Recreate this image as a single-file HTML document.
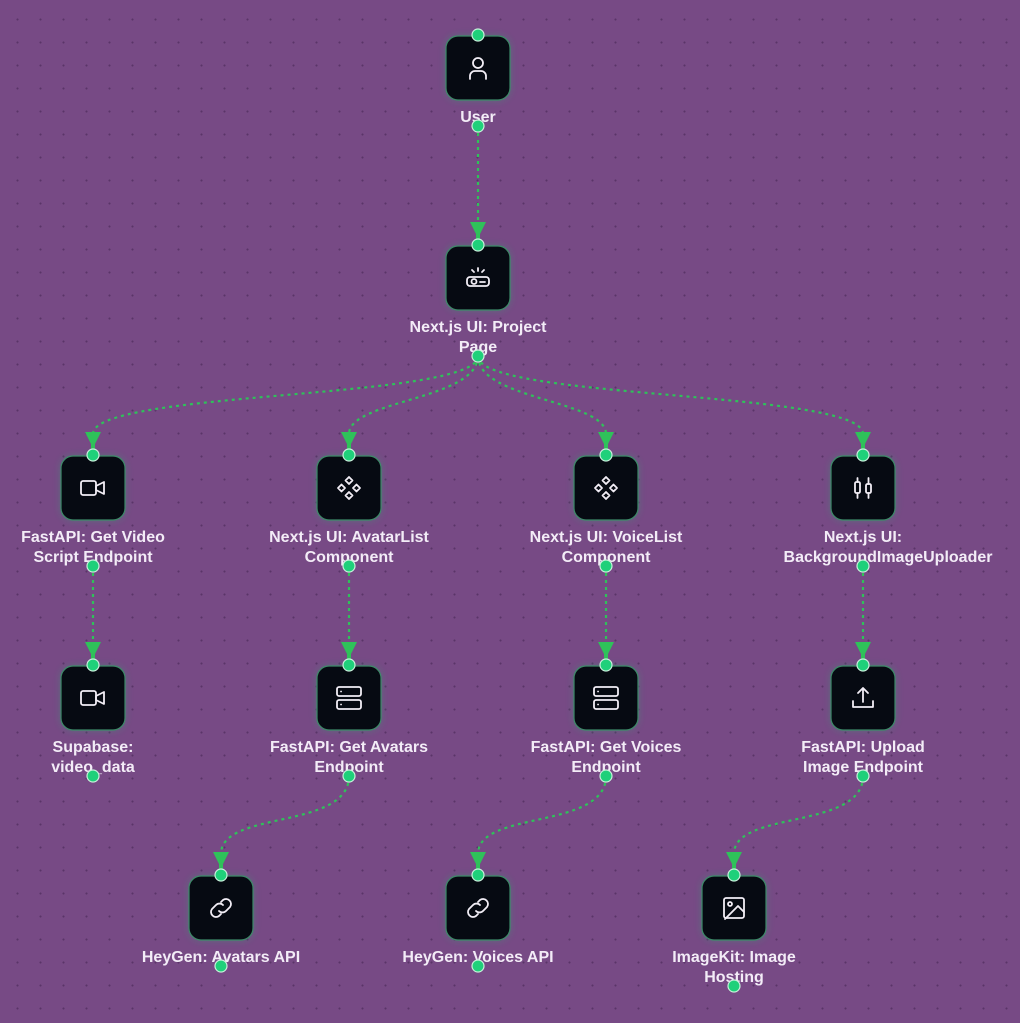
<!DOCTYPE html>
<html><head><meta charset="utf-8"><style>
html,body{margin:0;padding:0;}
body{width:1020px;height:1023px;overflow:hidden;background-color:#774a85;
background-image:radial-gradient(circle,#5a3468 0.9px,transparent 1.2px);background-size:23px 23px;background-position:6px 8px;
font-family:"Liberation Sans",sans-serif;}
svg{position:absolute;left:0;top:0;}
</style></head><body>
<svg width="1020" height="1023" viewBox="0 0 1020 1023" xmlns="http://www.w3.org/2000/svg">
<defs>
<filter id="glow" x="-50%" y="-50%" width="200%" height="200%"><feGaussianBlur stdDeviation="4"/></filter>
</defs>
<g fill="none" stroke="#2fc15a" stroke-width="2.2" stroke-dasharray="3 4">
<path d="M478 126 L478 224"/>
<path d="M478 356 C478 400 93 390 93 434"/>
<path d="M478 356 C478 400 349 400 349 434"/>
<path d="M478 356 C478 400 606 400 606 434"/>
<path d="M478 356 C478 400 863 390 863 434"/>
<path d="M93 566 L93 644"/>
<path d="M349 566 L349 644"/>
<path d="M606 566 L606 644"/>
<path d="M863 566 L863 644"/>
<path d="M349 776 C349 830 221 810 221 854"/>
<path d="M606 776 C606 830 478 810 478 854"/>
<path d="M863 776 C863 830 734 810 734 854"/>
</g>
<g fill="#2fc15a">
<path d="M470 222 L486 222 L480 234 L480 240 L476 240 L476 234 Z"/>
<path d="M85 432 L101 432 L95 444 L95 450 L91 450 L91 444 Z"/>
<path d="M341 432 L357 432 L351 444 L351 450 L347 450 L347 444 Z"/>
<path d="M598 432 L614 432 L608 444 L608 450 L604 450 L604 444 Z"/>
<path d="M855 432 L871 432 L865 444 L865 450 L861 450 L861 444 Z"/>
<path d="M85 642 L101 642 L95 654 L95 660 L91 660 L91 654 Z"/>
<path d="M341 642 L357 642 L351 654 L351 660 L347 660 L347 654 Z"/>
<path d="M598 642 L614 642 L608 654 L608 660 L604 660 L604 654 Z"/>
<path d="M855 642 L871 642 L865 654 L865 660 L861 660 L861 654 Z"/>
<path d="M213 852 L229 852 L223 864 L223 870 L219 870 L219 864 Z"/>
<path d="M470 852 L486 852 L480 864 L480 870 L476 870 L476 864 Z"/>
<path d="M726 852 L742 852 L736 864 L736 870 L732 870 L732 864 Z"/>
</g>
<g id="nodes">
<g fill="#2fa070" opacity="0.45" filter="url(#glow)">
<rect x="446" y="36" width="64" height="64" rx="12"/>
<rect x="446" y="246" width="64" height="64" rx="12"/>
<rect x="61" y="456" width="64" height="64" rx="12"/>
<rect x="317" y="456" width="64" height="64" rx="12"/>
<rect x="574" y="456" width="64" height="64" rx="12"/>
<rect x="831" y="456" width="64" height="64" rx="12"/>
<rect x="61" y="666" width="64" height="64" rx="12"/>
<rect x="317" y="666" width="64" height="64" rx="12"/>
<rect x="574" y="666" width="64" height="64" rx="12"/>
<rect x="831" y="666" width="64" height="64" rx="12"/>
<rect x="189" y="876" width="64" height="64" rx="12"/>
<rect x="446" y="876" width="64" height="64" rx="12"/>
<rect x="702" y="876" width="64" height="64" rx="12"/>
</g>
<g fill="#060a12" stroke="#3d8a68" stroke-width="1.2">
<rect x="446" y="36" width="64" height="64" rx="12"/>
<rect x="446" y="246" width="64" height="64" rx="12"/>
<rect x="61" y="456" width="64" height="64" rx="12"/>
<rect x="317" y="456" width="64" height="64" rx="12"/>
<rect x="574" y="456" width="64" height="64" rx="12"/>
<rect x="831" y="456" width="64" height="64" rx="12"/>
<rect x="61" y="666" width="64" height="64" rx="12"/>
<rect x="317" y="666" width="64" height="64" rx="12"/>
<rect x="574" y="666" width="64" height="64" rx="12"/>
<rect x="831" y="666" width="64" height="64" rx="12"/>
<rect x="189" y="876" width="64" height="64" rx="12"/>
<rect x="446" y="876" width="64" height="64" rx="12"/>
<rect x="702" y="876" width="64" height="64" rx="12"/>
</g>
</g>
<g fill="none" stroke="#f2eef6" stroke-width="1.8" stroke-linecap="round" stroke-linejoin="round">
<circle cx="478" cy="63" r="5"/><path d="M470 79 v-3 a5 5 0 0 1 5 -5 h6 a5 5 0 0 1 5 5 v3"/>
<rect x="467" y="277" width="22" height="9" rx="3"/><circle cx="474" cy="281.5" r="2.5"/><path d="M480 282h5 M478 268v3 M472 270l2 2 M484 270l-2 2"/>
<g transform="translate(93 488)"><rect x="-12" y="-7" width="15" height="14" rx="2"/><path d="M3 -2 l8 -4 v12 l-8 -4z"/></g>
<g transform="translate(93 698)"><rect x="-12" y="-7" width="15" height="14" rx="2"/><path d="M3 -2 l8 -4 v12 l-8 -4z"/></g>
<g transform="translate(349 488)"><path d="M0 -11 l3.5 3.5 -3.5 3.5 -3.5 -3.5z M0 4 l3.5 3.5 -3.5 3.5 -3.5 -3.5z M-7.5 -3.5 l3.5 3.5 -3.5 3.5 -3.5 -3.5z M7.5 -3.5 l3.5 3.5 -3.5 3.5 -3.5 -3.5z"/></g>
<g transform="translate(606 488)"><path d="M0 -11 l3.5 3.5 -3.5 3.5 -3.5 -3.5z M0 4 l3.5 3.5 -3.5 3.5 -3.5 -3.5z M-7.5 -3.5 l3.5 3.5 -3.5 3.5 -3.5 -3.5z M7.5 -3.5 l3.5 3.5 -3.5 3.5 -3.5 -3.5z"/></g>
<g transform="translate(863 488)"><rect x="-8" y="-6" width="5" height="11" rx="1.5"/><path d="M-5.5 -10v4 M-5.5 5v5"/><rect x="3" y="-4" width="5" height="9" rx="1.5"/><path d="M5.5 -10v6 M5.5 5v5"/></g>
<g transform="translate(349 698)"><rect x="-12" y="-11" width="24" height="9" rx="2"/><rect x="-12" y="2" width="24" height="9" rx="2"/><path d="M-8 -6.5h.1 M-8 6.5h.1"/></g>
<g transform="translate(606 698)"><rect x="-12" y="-11" width="24" height="9" rx="2"/><rect x="-12" y="2" width="24" height="9" rx="2"/><path d="M-8 -6.5h.1 M-8 6.5h.1"/></g>
<g transform="translate(863 698)"><path d="M-10 3v6h20v-6 M0 4v-14 M-5 -5l5 -5 5 5"/></g>
<g transform="translate(221 908)"><path d="M-2 3 a5 5 0 0 0 7 0 l4 -4 a5 5 0 0 0 -7 -7 l-2 2"/><path d="M2 -3 a5 5 0 0 0 -7 0 l-4 4 a5 5 0 0 0 7 7 l2 -2"/></g>
<g transform="translate(478 908)"><path d="M-2 3 a5 5 0 0 0 7 0 l4 -4 a5 5 0 0 0 -7 -7 l-2 2"/><path d="M2 -3 a5 5 0 0 0 -7 0 l-4 4 a5 5 0 0 0 7 7 l2 -2"/></g>
<g transform="translate(734 908)"><rect x="-10" y="-10" width="20" height="20" rx="2"/><circle cx="-4" cy="-4" r="2"/><path d="M10 4 l-6 -6 -13 13"/></g>
</g>
<g fill="#f3ecf7" font-family="Liberation Sans, sans-serif" font-weight="bold" font-size="16" text-anchor="middle">
<text x="478" y="122">User</text>
<text x="478" y="332">Next.js UI: Project</text><text x="478" y="352">Page</text>
<text x="93" y="542">FastAPI: Get Video</text><text x="93" y="562">Script Endpoint</text>
<text x="349" y="542">Next.js UI: AvatarList</text><text x="349" y="562">Component</text>
<text x="606" y="542">Next.js UI: VoiceList</text><text x="606" y="562">Component</text>
<text x="863" y="542">Next.js UI:</text><text x="888" y="562">BackgroundImageUploader</text>
<text x="93" y="752">Supabase:</text><text x="93" y="772">video_data</text>
<text x="349" y="752">FastAPI: Get Avatars</text><text x="349" y="772">Endpoint</text>
<text x="606" y="752">FastAPI: Get Voices</text><text x="606" y="772">Endpoint</text>
<text x="863" y="752">FastAPI: Upload</text><text x="863" y="772">Image Endpoint</text>
<text x="221" y="962">HeyGen: Avatars API</text>
<text x="478" y="962">HeyGen: Voices API</text>
<text x="734" y="962">ImageKit: Image</text><text x="734" y="982">Hosting</text>
</g>
<g fill="#1fd07a" stroke="#c9f0dc" stroke-width="1.2">
<circle cx="478" cy="35" r="6"/><circle cx="478" cy="126" r="6"/>
<circle cx="478" cy="245" r="6"/><circle cx="478" cy="356" r="6"/>
<circle cx="93" cy="455" r="6"/><circle cx="349" cy="455" r="6"/><circle cx="606" cy="455" r="6"/><circle cx="863" cy="455" r="6"/>
<circle cx="93" cy="566" r="6"/><circle cx="349" cy="566" r="6"/><circle cx="606" cy="566" r="6"/><circle cx="863" cy="566" r="6"/>
<circle cx="93" cy="665" r="6"/><circle cx="349" cy="665" r="6"/><circle cx="606" cy="665" r="6"/><circle cx="863" cy="665" r="6"/>
<circle cx="93" cy="776" r="6"/><circle cx="349" cy="776" r="6"/><circle cx="606" cy="776" r="6"/><circle cx="863" cy="776" r="6"/>
<circle cx="221" cy="875" r="6"/><circle cx="478" cy="875" r="6"/><circle cx="734" cy="875" r="6"/>
<circle cx="221" cy="966" r="6"/><circle cx="478" cy="966" r="6"/><circle cx="734" cy="986" r="6"/>
</g>
</svg>
</body></html>
